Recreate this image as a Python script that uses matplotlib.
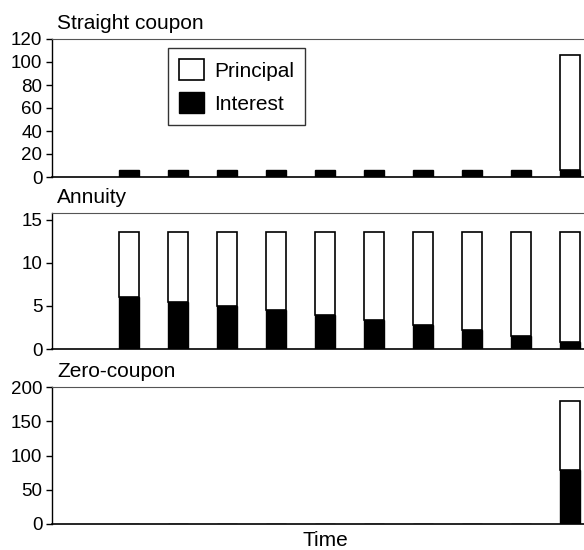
import matplotlib.pyplot as plt
import numpy as np

plt.rcParams['font.family'] = ['Liberation Sans', 'DejaVu Sans']

# Data: payments per period (periods 1..10)
periods = np.arange(1, 11)

straight_interest = [6, 6, 6, 6, 6, 6, 6, 6, 6, 6]
straight_principal = [0, 0, 0, 0, 0, 0, 0, 0, 0, 100]

annuity_interest = [6.0, 5.5, 5.0, 4.5, 4.0, 3.4, 2.8, 2.2, 1.5, 0.8]
annuity_principal = [7.6, 8.1, 8.6, 9.1, 9.6, 10.2, 10.8, 11.4, 12.1, 12.8]

zero_interest = [0, 0, 0, 0, 0, 0, 0, 0, 0, 79]
zero_principal = [0, 0, 0, 0, 0, 0, 0, 0, 0, 100]

titles = ['Straight coupon', 'Annuity', 'Zero-coupon']
ylims = [120, 15.8, 200]
yticks = [np.arange(0, 121, 20), [0, 5, 10, 15], np.arange(0, 201, 50)]

fig = plt.figure(figsize=(5.84, 5.5), dpi=100)

# axes rectangles in figure fractions
rects = [
    [52 / 584, 373 / 550, 1 - 52 / 584, 138 / 550],
    [52 / 584, 201 / 550, 1 - 52 / 584, 136 / 550],
    [52 / 584, 26 / 550, 1 - 52 / 584, 137 / 550],
]

series = [
    (straight_interest, straight_principal),
    (annuity_interest, annuity_principal),
    (zero_interest, zero_principal),
]

bar_w = 0.41
axes = []
for rect, title, (intr, prin), ymax, yt in zip(rects, titles, series, ylims, yticks):
    ax = fig.add_axes(rect)
    intr = np.array(intr, dtype=float)
    prin = np.array(prin, dtype=float)
    ax.bar(periods, intr, width=bar_w, color='black', edgecolor='black',
           linewidth=1, label='Interest')
    mask = prin > 0
    ax.bar(periods[mask], prin[mask], width=bar_w, bottom=intr[mask],
           color='white', edgecolor='black', linewidth=1.2, label='Principal')
    ax.set_xlim(-0.571, 10.29)
    ax.set_ylim(0, ymax)
    ax.set_yticks(yt)
    ax.set_xticks([])
    ax.tick_params(axis='y', labelsize=13.5, length=4, width=1, pad=3)
    ax.spines['right'].set_visible(False)
    ax.spines['top'].set_color('#555555')
    ax.spines['bottom'].set_linewidth(1.2)
    ax.spines['left'].set_linewidth(1)
    fig.text(rect[0] + 5 / 584, rect[1] + rect[3] + 6 / 550, title,
             fontsize=15, ha='left', va='bottom')
    axes.append(ax)

# legend in top panel
handles, labels = axes[0].get_legend_handles_labels()
leg = axes[0].legend(handles[::-1], labels[::-1], loc='upper left',
                     bbox_to_anchor=(0.218, 0.935), borderaxespad=0,
                     fontsize=15, fancybox=False, frameon=True,
                     handlelength=1.2, handleheight=1.15, handletextpad=0.45,
                     labelspacing=0.55, borderpad=0.55)
leg.get_frame().set_edgecolor('black')
leg.get_frame().set_linewidth(1)

fig.text(325 / 584, 1 - 541 / 550, 'Time', fontsize=15, ha='center', va='center')

plt.savefig('out.png', dpi=100)
